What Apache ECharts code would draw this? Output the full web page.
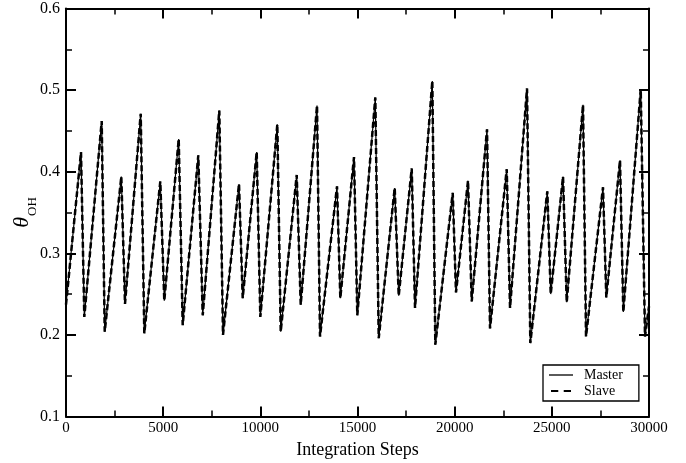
<!DOCTYPE html>
<html>
<head>
<meta charset="utf-8">
<script src="https://cdn.jsdelivr.net/npm/echarts@6/dist/echarts.min.js"></script>
<style>
html,body{margin:0;padding:0;background:#fff;}
#c{width:686px;height:463px;}
</style>
</head>
<body>
<div id="c"></div>
<script>
// Integration step positions of peaks/troughs
const steps = [0, 772, 942, 1837, 1992, 2846, 3036, 3844, 4029, 4853, 5058, 5800, 6005, 6808, 7035, 7889, 8079, 8903, 9093, 9813, 9999, 10874, 11049, 11872, 12078, 12917, 13071, 13946, 14116, 14820, 14990, 15917, 16092, 16915, 17121, 17790, 17960, 18850, 19004, 19900, 20069, 20687, 20878, 21665, 21819, 22679, 22849, 23723, 23893, 24768, 24943, 25576, 25766, 26605, 26759, 27633, 27803, 28508, 28678, 29574, 29794, 30000];
const master = [0.237, 0.424, 0.222, 0.462, 0.204, 0.394, 0.238, 0.471, 0.202, 0.388, 0.242, 0.440, 0.212, 0.420, 0.224, 0.475, 0.200, 0.385, 0.245, 0.424, 0.222, 0.458, 0.204, 0.396, 0.237, 0.481, 0.198, 0.382, 0.245, 0.418, 0.224, 0.491, 0.196, 0.380, 0.248, 0.404, 0.233, 0.511, 0.188, 0.374, 0.252, 0.389, 0.241, 0.452, 0.208, 0.403, 0.233, 0.502, 0.190, 0.376, 0.250, 0.394, 0.240, 0.482, 0.198, 0.381, 0.246, 0.414, 0.228, 0.501, 0.198, 0.235];
const slave = [0.237, 0.424, 0.222, 0.462, 0.204, 0.394, 0.238, 0.471, 0.202, 0.388, 0.242, 0.440, 0.212, 0.420, 0.224, 0.475, 0.200, 0.385, 0.245, 0.424, 0.222, 0.458, 0.204, 0.396, 0.237, 0.481, 0.198, 0.382, 0.245, 0.418, 0.224, 0.491, 0.196, 0.380, 0.248, 0.404, 0.233, 0.511, 0.188, 0.374, 0.252, 0.389, 0.241, 0.452, 0.208, 0.403, 0.233, 0.502, 0.190, 0.376, 0.250, 0.394, 0.240, 0.482, 0.198, 0.381, 0.246, 0.414, 0.228, 0.501, 0.198, 0.235];
const seriesNames = ['Master', 'Slave'];
const xTicks = { min: 0, max: 30000, interval: 5000 };
const yTicks = { min: 0.1, max: 0.6, interval: 0.1 };

const FONT = '"Liberation Serif", "DejaVu Serif", serif';
const chart = echarts.init(document.getElementById('c'), null, { renderer: 'canvas' });

function pairs(xs, ys) { return xs.map((x, i) => [x, ys[i]]); }

const axisCommon = {
  axisLine: { show: true, onZero: false, lineStyle: { color: '#000', width: 2 } },
  axisTick: { show: true, inside: true, length: 10, lineStyle: { color: '#000', width: 2 } },
  minorTick: { show: true, splitNumber: 2, length: 6, lineStyle: { color: '#000', width: 1.5 } },
  splitLine: { show: false },
  minorSplitLine: { show: false }
};

chart.setOption({
  backgroundColor: '#fff',
  animation: false,
  grid: { left: 66, right: 37, top: 8.5, bottom: 46.5, containLabel: false, outerBoundsMode: 'none' },
  legend: {
    data: [
      { name: seriesNames[0], icon: 'path://M0,0h24v1.3h-24z' },
      { name: seriesNames[1], icon: 'path://M0,0h8v2.2h-8z M14,0h8v2.2h-8z' }
    ],
    orient: 'vertical',
    left: 543, top: 365,
    padding: [3, 16, 3, 6],
    itemGap: 2,
    itemWidth: 24, itemHeight: 2,
    borderColor: '#000', borderWidth: 1.3,
    backgroundColor: '#fff',
    itemStyle: { color: '#000' },
    textStyle: { fontFamily: FONT, fontSize: 14, color: '#000', padding: [0, 0, 0, 6], lineHeight: 13 }
  },
  xAxis: [
    Object.assign({
      type: 'value', position: 'bottom', min: xTicks.min, max: xTicks.max, interval: xTicks.interval,
      name: 'Integration Steps', nameLocation: 'middle', nameGap: 25,
      nameTextStyle: { fontFamily: FONT, fontSize: 18, color: '#000' },
      axisLabel: { fontFamily: FONT, fontSize: 15, color: '#000', margin: 4, formatter: v => String(v) }
    }, axisCommon),
    Object.assign({
      type: 'value', position: 'top', min: xTicks.min, max: xTicks.max, interval: xTicks.interval,
      axisLabel: { show: false }
    }, axisCommon)
  ],
  yAxis: [
    Object.assign({
      type: 'value', position: 'left', min: yTicks.min, max: yTicks.max, interval: yTicks.interval,
      name: '{a|θ}{b|OH}', nameLocation: 'middle', nameGap: 31, nameMoveOverlap: false,
      nameTextStyle: {
        rich: {
          a: { fontFamily: FONT, fontSize: 22, fontStyle: 'italic', color: '#000', lineHeight: 26 },
          b: { fontFamily: FONT, fontSize: 13, color: '#000', verticalAlign: 'bottom', lineHeight: 26, padding: [0, 0, -4, 1] }
        }
      },
      axisLabel: { fontFamily: FONT, fontSize: 16, color: '#000', margin: 6, formatter: v => v.toFixed(1) }
    }, axisCommon),
    Object.assign({
      type: 'value', position: 'right', min: yTicks.min, max: yTicks.max, interval: yTicks.interval,
      axisLabel: { show: false }
    }, axisCommon)
  ],
  series: [
    {
      name: seriesNames[0], type: 'line', xAxisIndex: 0, yAxisIndex: 0,
      data: pairs(steps, master), symbol: 'none', showSymbol: false,
      lineStyle: { color: '#000', width: 1.2, type: 'solid' },
      itemStyle: { color: '#000' }
    },
    {
      name: seriesNames[1], type: 'line', xAxisIndex: 0, yAxisIndex: 0,
      data: pairs(steps, slave), symbol: 'none', showSymbol: false,
      lineStyle: { color: '#000', width: 2.5, type: [6, 3] },
      itemStyle: { color: '#000' }
    }
  ]
});
</script>
</body>
</html>
